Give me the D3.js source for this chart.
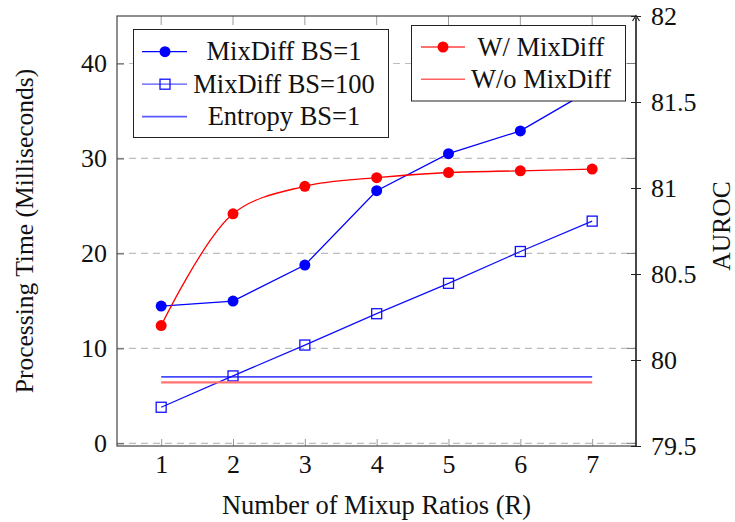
<!DOCTYPE html>
<html>
<head>
<meta charset="utf-8">
<script src="https://cdn.jsdelivr.net/npm/d3@7"></script>
<style>
  body { margin: 0; background: #fff; }
  svg text { font-family: "Liberation Serif", "Times New Roman", serif; fill: #111; }
</style>
</head>
<body>
<div id="chart"></div>
<script>
// data
const ratios = [1, 2, 3, 4, 5, 6, 7];
const mixdiffBs1 = [14.45, 14.98, 18.77, 26.6, 30.5, 32.9, 37.3];
const mixdiffBs100 = [3.8, 7.1, 10.35, 13.65, 16.85, 20.2, 23.4];
const entropyRatios = [1, 7];
const entropyBs1 = [7.0, 7.0];
const aurocWith = [80.2, 80.85, 81.01, 81.06, 81.09, 81.1, 81.11];
const aurocWithoutRatios = [1, 7];
const aurocWithout = [79.87, 79.87];
const timeTicks = [0, 10, 20, 30, 40];
const aurocTicks = [79.5, 80, 80.5, 81, 81.5, 82];

const W = 735, H = 522;
const pLeft = 117, pRight = 636, pTop = 16, pBottom = 446;

const svg = d3.select("#chart").append("svg")
    .attr("width", W).attr("height", H)
    .attr("font-family", "Liberation Serif, serif");

const x = d3.scaleLinear().domain([0.385, 7.61]).range([pLeft, pRight]);
const yL = d3.scaleLinear().domain([-0.28, 45]).range([pBottom, pTop]);
const yR = d3.scaleLinear().domain([79.5, 82]).range([pBottom, pTop]);

// grid lines (dashed)
svg.append("g").selectAll("line")
    .data(timeTicks)
    .join("line")
    .attr("x1", pLeft).attr("x2", pRight)
    .attr("y1", d => yL(d)).attr("y2", d => yL(d))
    .attr("stroke", "#bdbdbd").attr("stroke-width", 1.2)
    .attr("stroke-dasharray", "7,5");

// x axis (bottom)
const gx = svg.append("g")
    .attr("transform", `translate(0,${pBottom})`)
    .call(d3.axisBottom(x).tickValues(ratios).tickSizeInner(-7).tickSizeOuter(0).tickPadding(9));
gx.attr("font-family", null).attr("font-size", null);
gx.select(".domain").remove();
gx.selectAll(".tick line").attr("stroke", "#9a9a9a");
gx.selectAll(".tick text").style("font-size", "26px").attr("fill", "#111");

// top ticks
svg.append("g").selectAll("line")
    .data(ratios)
    .join("line")
    .attr("x1", d => x(d)).attr("x2", d => x(d))
    .attr("y1", pTop).attr("y2", pTop + 9)
    .attr("stroke", "#9a9a9a");

// left axis
const gyL = svg.append("g")
    .attr("transform", `translate(${pLeft},0)`)
    .call(d3.axisLeft(yL).tickValues(timeTicks).tickSizeInner(-7).tickSizeOuter(0).tickPadding(10));
gyL.attr("font-family", null).attr("font-size", null);
gyL.select(".domain").remove();
gyL.selectAll(".tick line").attr("stroke", "#555");
gyL.selectAll(".tick text").style("font-size", "26px").attr("fill", "#111");

// mirrored left ticks on the right edge
svg.append("g").selectAll("line")
    .data(timeTicks)
    .join("line")
    .attr("x1", pRight - 9).attr("x2", pRight)
    .attr("y1", d => yL(d)).attr("y2", d => yL(d))
    .attr("stroke", "#777");

// frame
svg.append("rect")
    .attr("x", pLeft).attr("y", pTop)
    .attr("width", pRight - pLeft).attr("height", pBottom - pTop)
    .attr("fill", "none").attr("stroke", "#444").attr("stroke-width", 1.2);

// left series
const lineL = d3.line().x(d => x(d[0])).y(d => yL(d[1]));

svg.append("path")
    .datum(d3.zip(entropyRatios, entropyBs1))
    .attr("d", lineL)
    .attr("fill", "none").attr("stroke", "#4a4aff").attr("stroke-width", 1.8);

svg.append("path")
    .datum(d3.zip(ratios, mixdiffBs100))
    .attr("d", lineL)
    .attr("fill", "none").attr("stroke", "#1010ff").attr("stroke-width", 1.3);
svg.append("g").selectAll("rect")
    .data(d3.zip(ratios, mixdiffBs100))
    .join("rect")
    .attr("x", d => x(d[0]) - 5).attr("y", d => yL(d[1]) - 5)
    .attr("width", 10).attr("height", 10)
    .attr("fill", "none").attr("stroke", "#1010ff").attr("stroke-width", 1.3);

svg.append("path")
    .datum(d3.zip(ratios, mixdiffBs1))
    .attr("d", lineL)
    .attr("fill", "none").attr("stroke", "#0000ff").attr("stroke-width", 1.3);
svg.append("g").selectAll("circle")
    .data(d3.zip(ratios, mixdiffBs1))
    .join("circle")
    .attr("cx", d => x(d[0])).attr("cy", d => yL(d[1]))
    .attr("r", 5.5).attr("fill", "#0000ff");

// legend 1
const leg1 = svg.append("g");
leg1.append("rect")
    .attr("x", 133.5).attr("y", 29.5).attr("width", 255).attr("height", 108)
    .attr("fill", "#fff").attr("stroke", "#222").attr("stroke-width", 1);
const leg1Rows = [
    { label: "MixDiff BS=1", y: 51.7, color: "#0000ff", w: 1.3, mark: "circle" },
    { label: "MixDiff BS=100", y: 84.2, color: "#5555ff", w: 1.3, mark: "square" },
    { label: "Entropy BS=1", y: 116.7, color: "#5a5aff", w: 1.8, mark: "none" }
];
leg1Rows.forEach(r => {
    leg1.append("line").attr("x1", 142).attr("x2", 187).attr("y1", r.y).attr("y2", r.y)
        .attr("stroke", r.color).attr("stroke-width", r.w);
    if (r.mark === "circle")
        leg1.append("circle").attr("cx", 165).attr("cy", r.y).attr("r", 5.5).attr("fill", "#0000ff");
    if (r.mark === "square")
        leg1.append("rect").attr("x", 160).attr("y", r.y - 5).attr("width", 10).attr("height", 10)
            .attr("fill", "none").attr("stroke", "#1010ff").attr("stroke-width", 1.3);
    leg1.append("text").attr("x", 284).attr("y", r.y + 8.5)
        .attr("text-anchor", "middle").style("font-size", "26.5px").text(r.label);
});

// right axis (AUROC)
const gyR = svg.append("g")
    .attr("transform", `translate(${pRight},0)`)
    .call(d3.axisRight(yR).tickValues(aurocTicks).tickSizeInner(5).tickSizeOuter(0).tickPadding(10)
        .tickFormat(d3.format("")));
gyR.attr("font-family", null).attr("font-size", null);
gyR.select(".domain").remove();
gyR.selectAll(".tick line").attr("x1", -5).attr("stroke", "#222");
gyR.selectAll(".tick text").style("font-size", "26px").attr("fill", "#111");

svg.append("line")
    .attr("x1", pRight).attr("x2", pRight).attr("y1", pBottom).attr("y2", pTop + 2)
    .attr("stroke", "#222").attr("stroke-width", 1.3);
svg.append("path")
    .attr("d", `M${pRight - 3.5},${pTop + 5} L${pRight},${pTop - 0.5} L${pRight + 3.5},${pTop + 5}`)
    .attr("fill", "none").attr("stroke", "#222").attr("stroke-width", 1.2);

// right series
const lineR = d3.line().x(d => x(d[0])).y(d => yR(d[1]));

svg.append("path")
    .datum(d3.zip(aurocWithoutRatios, aurocWithout))
    .attr("d", lineR)
    .attr("fill", "none").attr("stroke", "#ff7272").attr("stroke-width", 2.2);

svg.append("path")
    .datum(d3.zip(ratios, aurocWith))
    .attr("d", lineR.curve(d3.curveCatmullRom.alpha(0.5)))
    .attr("fill", "none").attr("stroke", "#ff0000").attr("stroke-width", 1.3);
svg.append("g").selectAll("circle")
    .data(d3.zip(ratios, aurocWith))
    .join("circle")
    .attr("cx", d => x(d[0])).attr("cy", d => yR(d[1]))
    .attr("r", 5.5).attr("fill", "#ff0000");

// legend 2
const leg2 = svg.append("g");
leg2.append("rect")
    .attr("x", 411.5).attr("y", 25.5).attr("width", 214).attr("height", 75.5)
    .attr("fill", "#fff").attr("stroke", "#222").attr("stroke-width", 1);
const leg2Rows = [
    { label: "W/ MixDiff", y: 47, color: "#ff4040", w: 1.3, mark: true },
    { label: "W/o MixDiff", y: 79.3, color: "#ff6060", w: 1.6, mark: false }
];
leg2Rows.forEach(r => {
    leg2.append("line").attr("x1", 421).attr("x2", 465).attr("y1", r.y).attr("y2", r.y)
        .attr("stroke", r.color).attr("stroke-width", r.w);
    if (r.mark)
        leg2.append("circle").attr("cx", 443).attr("cy", r.y).attr("r", 5.5).attr("fill", "#ff0000");
    leg2.append("text").attr("x", 541).attr("y", r.y + 8.5)
        .attr("text-anchor", "middle").style("font-size", "26.5px").text(r.label);
});

// axis titles
svg.append("text")
    .attr("transform", `translate(${(pLeft + pRight) / 2},514)`)
    .attr("text-anchor", "middle").style("font-size", "26.5px")
    .text("Number of Mixup Ratios (R)");

svg.append("text")
    .attr("transform", `translate(33,${(pTop + pBottom) / 2}) rotate(-90)`)
    .attr("text-anchor", "middle").style("font-size", "25.5px")
    .text("Processing Time (Milliseconds)");

svg.append("text")
    .attr("transform", `translate(730,${(pTop + pBottom) / 2 - 5}) rotate(-90)`)
    .attr("text-anchor", "middle").style("font-size", "25.5px")
    .text("AUROC");
</script>
</body>
</html>
